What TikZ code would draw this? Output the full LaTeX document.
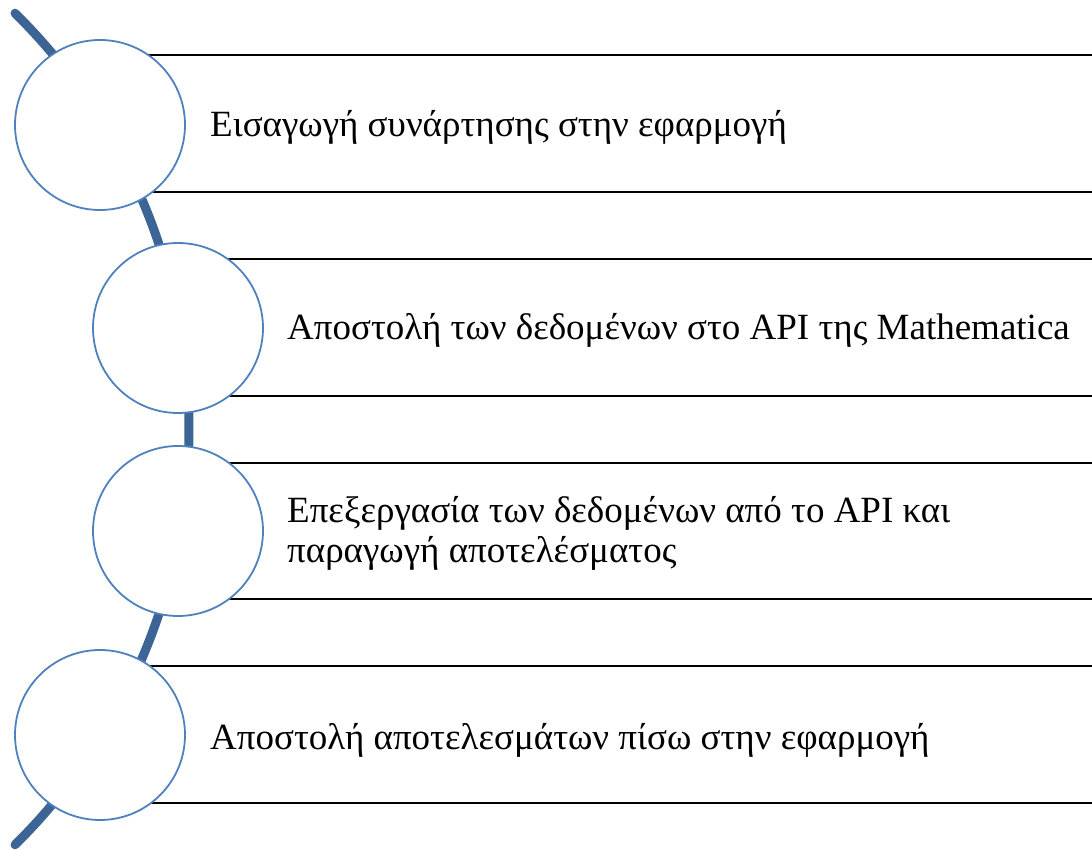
\documentclass[tikz,border=0pt]{standalone}
\usepackage{fontspec}
\setmainfont{Liberation Serif}
\definecolor{arcblue}{HTML}{3C6596}
\definecolor{ringblue}{HTML}{4F81BD}
\begin{document}
\begin{tikzpicture}[x=1pt,y=1pt,
  arcline/.style={draw=arcblue,line width=9pt,line cap=round},
  ring/.style={circle,draw=ringblue,line width=1.8pt,fill=white,minimum size=170pt,inner sep=0pt},
  rule/.style={draw=black,line width=1.3pt},
  label/.style={anchor=west,inner sep=0pt,align=left,font=\fontsize{37}{40}\selectfont}]
\useasboundingbox (0,0) rectangle (1092,849);
\coordinate (ac) at (-395,420);
\draw[arcline] (ac) ++(45.4:584pt) arc[start angle=45.4,end angle=-45.4,radius=584pt];
% rules
\coordinate (r1a) at (100,794); \coordinate (r1b) at (1092,794);
\coordinate (r1c) at (100,657); \coordinate (r1d) at (1092,657);
\coordinate (r2a) at (178,590); \coordinate (r2b) at (1092,590);
\coordinate (r2c) at (178,453); \coordinate (r2d) at (1092,453);
\coordinate (r3a) at (178,386); \coordinate (r3b) at (1092,386);
\coordinate (r3c) at (178,250); \coordinate (r3d) at (1092,250);
\coordinate (r4a) at (100,183); \coordinate (r4b) at (1092,183);
\coordinate (r4c) at (100,46);  \coordinate (r4d) at (1092,46);
\draw[rule] (r1a) -- (r1b); \draw[rule] (r1c) -- (r1d);
\draw[rule] (r2a) -- (r2b); \draw[rule] (r2c) -- (r2d);
\draw[rule] (r3a) -- (r3b); \draw[rule] (r3c) -- (r3d);
\draw[rule] (r4a) -- (r4b); \draw[rule] (r4c) -- (r4d);
% circles
\node[ring] (c1) at (100,724) {};
\node[ring] (c2) at (178,521) {};
\node[ring] (c3) at (178,318) {};
\node[ring] (c4) at (100,114) {};
% texts
\node[label] (t1) at (210,722) {Εισαγωγή συνάρτησης στην εφαρμογή};
\node[label] (t2) at (287,519) {Αποστολή των δεδομένων στο API της Mathematica};
\node[label] (t3) at (287,316) {Επεξεργασία των δεδομένων από το API και\\παραγωγή αποτελέσματος};
\node[label] (t4) at (210,109) {Αποστολή αποτελεσμάτων πίσω στην εφαρμογή};
\end{tikzpicture}
\end{document}
